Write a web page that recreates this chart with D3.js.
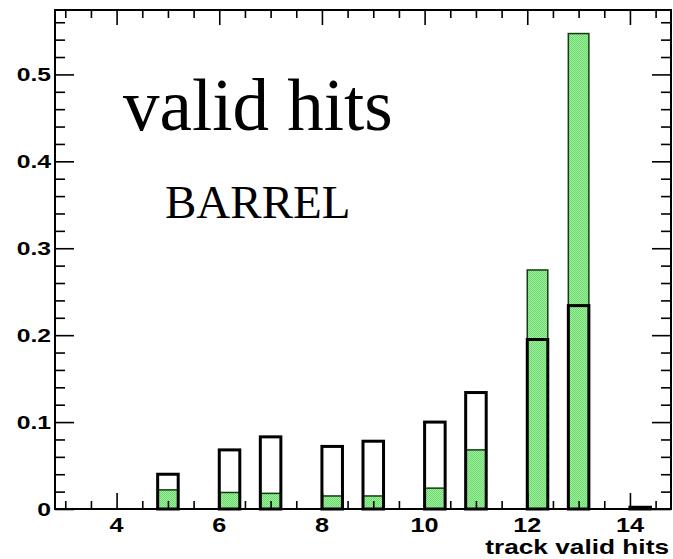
<!DOCTYPE html>
<html>
<head>
<meta charset="utf-8">
<script src="https://cdn.jsdelivr.net/npm/d3@7"></script>
<style>
  html, body { margin: 0; padding: 0; background: #fff; }
  svg { display: block; }
</style>
</head>
<body>
<script>
// Histogram bins (width 0.4) that hold the integer hit counts 5..14
const binLow = [4.8, 6.0, 6.8, 8.0, 8.8, 10.0, 10.8, 12.0, 12.8, 14.0];
const binWidth = 0.4;
// Hollow (black outline) distribution
const hollowValues = [0.040, 0.068, 0.083, 0.072, 0.078, 0.100, 0.134, 0.195, 0.234, 0.002];
// Filled (green) distribution
const greenValues = [0.022, 0.019, 0.018, 0.015, 0.015, 0.024, 0.068, 0.275, 0.547, 0.0];

const xDomain = [2.8, 14.8];
const yMax = 0.5741;
const xMajorTicks = [4, 6, 8, 10, 12, 14];
const xMinorTicks = [3, 3.5, 4.5, 5, 5.5, 6.5, 7, 7.5, 8.5, 9, 9.5, 10.5, 11, 11.5, 12.5, 13, 13.5, 14.5];
const yMajorTicks = [0, 0.1, 0.2, 0.3, 0.4, 0.5];
const yTickLabels = ["0", "0.1", "0.2", "0.3", "0.4", "0.5"];
const yMinorTicks = [0.02, 0.04, 0.06, 0.08, 0.12, 0.14, 0.16, 0.18, 0.22, 0.24, 0.26, 0.28,
                     0.32, 0.34, 0.36, 0.38, 0.42, 0.44, 0.46, 0.48, 0.52, 0.54, 0.56];
const xTitle = "track valid hits";
const mainTitle = "valid hits";
const subTitle = "BARREL";

const W = 673, H = 559;
const plot = { left: 55, right: 671, top: 10, bottom: 509 };

const svg = d3.select("body").append("svg")
  .attr("width", W).attr("height", H);

// fine dithered green fill
const defs = svg.append("defs");
const pat = defs.append("pattern")
  .attr("id", "greenDither")
  .attr("patternUnits", "userSpaceOnUse")
  .attr("width", 2).attr("height", 2);
pat.append("rect").attr("width", 2).attr("height", 2).attr("fill", "#a0efa0");
pat.append("rect").attr("x", 0).attr("y", 0).attr("width", 1).attr("height", 1).attr("fill", "#6cd96c");
pat.append("rect").attr("x", 1).attr("y", 1).attr("width", 1).attr("height", 1).attr("fill", "#6cd96c");

const x = d3.scaleLinear().domain(xDomain).range([plot.left, plot.right]);
const y = d3.scaleLinear().domain([0, yMax]).range([plot.bottom, plot.top]);

const rows = binLow.map((lo, i) => ({ lo, hi: lo + binWidth, hollow: hollowValues[i], green: greenValues[i] }));

// green filled bars
svg.append("g").selectAll("rect")
  .data(rows.filter(d => d.green > 0))
  .join("rect")
  .attr("x", d => x(d.lo))
  .attr("width", d => x(d.hi) - x(d.lo))
  .attr("y", d => y(d.green))
  .attr("height", d => y(0) - y(d.green))
  .attr("fill", "url(#greenDither)")
  .attr("stroke", "#123c12")
  .attr("stroke-width", 1.5);

// hollow black bars
svg.append("g").selectAll("rect")
  .data(rows)
  .join("rect")
  .attr("x", d => x(d.lo))
  .attr("width", d => x(d.hi) - x(d.lo))
  .attr("y", d => y(d.hollow))
  .attr("height", d => y(0) - y(d.hollow))
  .attr("fill", "none")
  .attr("stroke", "#000")
  .attr("stroke-width", 3);

// tick marks on all four sides, pointing inward
function ticks(axisFn, scale, values, size, transform) {
  const g = svg.append("g")
    .attr("transform", transform)
    .call(axisFn(scale).tickValues(values).tickSize(size).tickFormat(""));
  g.select(".domain").remove();
  g.selectAll("line").attr("stroke", "#000").attr("stroke-width", 1.6);
}
ticks(d3.axisBottom, x, xMajorTicks, -16, `translate(0,${plot.bottom})`);
ticks(d3.axisBottom, x, xMinorTicks, -8, `translate(0,${plot.bottom})`);
ticks(d3.axisTop, x, xMajorTicks, -15, `translate(0,${plot.top})`);
ticks(d3.axisTop, x, xMinorTicks, -8, `translate(0,${plot.top})`);
ticks(d3.axisLeft, y, yMajorTicks, -19, `translate(${plot.left},0)`);
ticks(d3.axisLeft, y, yMinorTicks, -10, `translate(${plot.left},0)`);
ticks(d3.axisRight, y, yMajorTicks, -19, `translate(${plot.right},0)`);
ticks(d3.axisRight, y, yMinorTicks, -10, `translate(${plot.right},0)`);

// frame
svg.append("rect")
  .attr("x", plot.left).attr("y", plot.top)
  .attr("width", plot.right - plot.left).attr("height", plot.bottom - plot.top)
  .attr("fill", "none").attr("stroke", "#000").attr("stroke-width", 2);

// tick labels (wide bold sans)
const labelFont = "'Liberation Sans', Arial, Helvetica, sans-serif";
svg.append("g").selectAll("text")
  .data(xMajorTicks)
  .join("text")
  .attr("transform", d => `translate(${x(d)},532) scale(1.2,1)`)
  .attr("text-anchor", "middle")
  .attr("font-family", labelFont).attr("font-weight", "bold").attr("font-size", 21)
  .text(d => d);

svg.append("g").selectAll("text")
  .data(yMajorTicks)
  .join("text")
  .attr("transform", d => `translate(51,${y(d)}) scale(1.3,1)`)
  .attr("text-anchor", "end")
  .attr("dy", "0.36em")
  .attr("font-family", labelFont).attr("font-weight", "bold").attr("font-size", 19)
  .text((d, i) => yTickLabels[i]);

// axis title
svg.append("text")
  .attr("transform", "translate(669,554) scale(1.25,1)")
  .attr("text-anchor", "end")
  .attr("font-family", labelFont).attr("font-weight", "bold").attr("font-size", 21)
  .text(xTitle);

// annotations
svg.append("text")
  .attr("x", 123).attr("y", 130)
  .attr("font-family", "'Liberation Serif', 'Times New Roman', serif")
  .attr("font-size", 73)
  .text(mainTitle);

svg.append("text")
  .attr("x", 165).attr("y", 218)
  .attr("font-family", "'Liberation Serif', 'Times New Roman', serif")
  .attr("font-size", 47)
  .text(subTitle);
</script>
</body>
</html>
